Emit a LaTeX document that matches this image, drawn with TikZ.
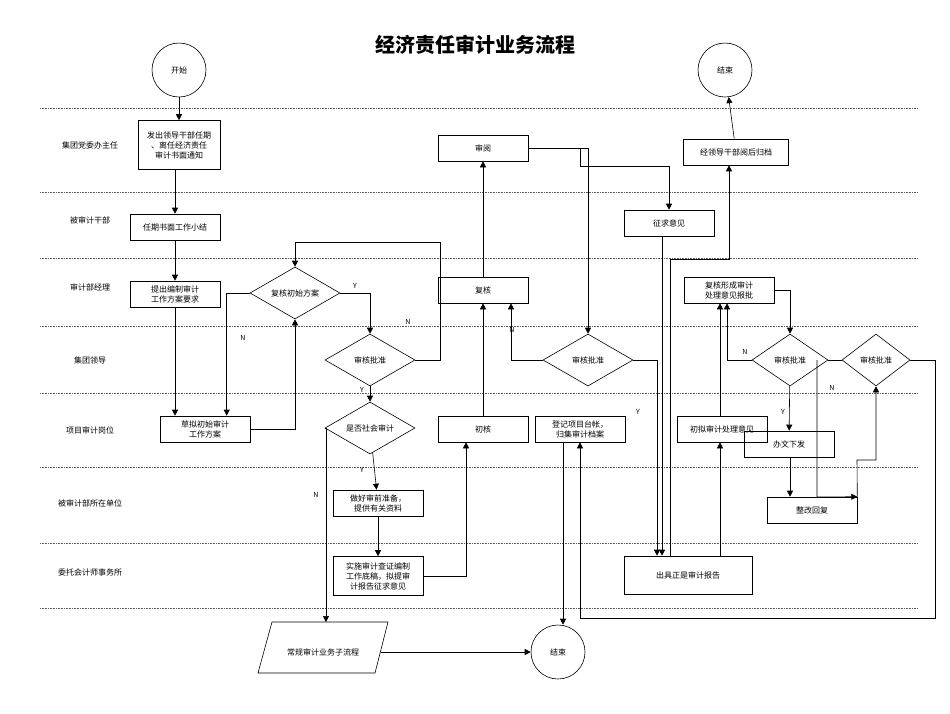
\documentclass[tikz,border=0pt]{standalone}
\usepackage{fontspec}
\setmainfont{Noto Sans CJK SC}
\usepackage{tikz}
\usetikzlibrary{shapes.geometric,arrows.meta}
\tikzset{
box/.style={draw,rectangle,minimum width=90,minimum height=26,inner sep=1pt,align=center,font=\fontsize{8}{10}\selectfont},
dia/.style={draw,diamond,minimum width=90,minimum height=52,inner sep=0pt,font=\fontsize{8}{10}\selectfont},
term/.style={draw,circle,minimum size=54,inner sep=0pt,font=\fontsize{8}{10}\selectfont},
flow/.style={-{Triangle[length=6pt,width=6pt]}},
lane/.style={densely dotted,gray!70!black},
yn/.style={font=\fontsize{7}{8}\selectfont},
}
\begin{document}
\begin{tikzpicture}[x=1pt,y=-1pt,line width=0.6pt]
\useasboundingbox (0,0) rectangle (950,713);
\node[font=\fontsize{20}{24}\selectfont\bfseries] (title) at (475,45) {经济责任审计业务流程};
% the lanes
\foreach \y in {108,192,258,326,393,467,543,608}
{
  \draw[lane] (40,\y) -- (918,\y);
}
\foreach \y/\t in {145/集团党委办主任,220/被审计干部,287/审计部经理,360/集团领导,430/项目审计岗位,503/被审计部所在单位,572/委托会计师事务所}
{
  \node[font=\fontsize{8}{10}\selectfont] at (90,\y) {\t};
}
% the nodes
\node[term] (start) at (179,70) {开始};
\node[term] (end1) at (725,70) {结束};
\node[box,minimum width=82,minimum height=49] (notice) at (179,145) {发出领导干部任期\\、离任经济责任\\审计书面通知};
\node[box] (summary) at (175,227) {任期书面工作小结};
\node[box] (request) at (175,294) {提出编制审计\\工作方案要求};
\node[dia,label=center:{\fontsize{8}{10}\selectfont 复核初始方案}] (check) at (295,293) {};
\node[box] (draft) at (205,429) {草拟初始审计\\工作方案};
\node[dia,label=center:{\fontsize{8}{10}\selectfont 审核批准}] (appr1) at (370,360) {};
\node[dia,label=center:{\fontsize{8}{10}\selectfont 是否社会审计}] (social) at (370,428) {};
\node[box] (prep) at (378,503) {做好审前准备，\\提供有关资料};
\node[box,minimum height=39] (exec) at (378,576) {实施审计查证编制\\工作底稿，拟提审\\计报告征求意见};
\node[box] (first) at (483,429) {初核};
\node[box] (recheck) at (483,290) {复核};
\node[box] (review) at (483,148) {审阅};
\node[dia,label=center:{\fontsize{8}{10}\selectfont 审核批准}] (appr2) at (588,360) {};
\node[box] (archive) at (580,429) {登记项目台帐，\\归集审计档案};
\node[box] (opinion) at (669,223) {征求意见};
\node[box,minimum width=105] (file) at (736,152) {经领导干部阅后归档};
\node[box] (form) at (729,290) {复核形成审计\\处理意见报批};
\node[box] (prelim) at (722,429) {初拟审计处理意见};
\node[dia,minimum width=76,label=center:{\fontsize{8}{10}\selectfont 审核批准}] (appr3) at (790,360) {};
\node[dia,minimum width=68,label=center:{\fontsize{8}{10}\selectfont 审核批准}] (appr4) at (876,360) {};
\node[box] (issue) at (789,444) {办文下发};
\node[box] (reply) at (812,510) {整改回复};
\node[box,minimum width=128,minimum height=38] (report) at (688,575) {出具正是审计报告};
\node[minimum width=116,minimum height=51,inner sep=0pt,font=\fontsize{8}{10}\selectfont] (sub) at (323,652) {常规审计业务子流程};
\draw (272,622) -- (388,622) -- (375,673) -- (258,673) -- cycle;
\node[term] (end2) at (558,652) {结束};
% the arrows
\draw[flow] (start) -- (notice);
\draw[flow] (notice.south -| summary) -- (summary);
\draw[flow] (summary) -- (request);
\draw[flow] (request) -- (draft.north -| request);
\draw[flow] (draft.east) -| (check.south);
\draw[flow] (check.west) -| ([xshift=67]draft.north west);
\node[yn] at (243,338) {N};
\draw[flow] (check.east) -| (appr1.north);
\node[yn] at (355,286) {Y};
\draw[flow] (appr1.east) -- (440,360) |- (295,242) -- (check.north);
\node[yn] at (408,322) {N};
\draw[flow] (appr1) -- (social);
\node[yn] at (362,390) {Y};
\draw[flow] (social) -- (prep);
\node[yn] at (362,470) {Y};
\draw[flow] (social.west) -- (326,428) -- (326,622);
\node[yn] at (316,495) {N};
\draw[flow] (prep) -- (exec);
\draw[flow] (exec.east) -| ([xshift=-17]first.south);
\draw[flow] (first) -- (recheck);
\draw[flow] (recheck) -- (review);
\draw[flow] (review.east) -| (appr2.north);
\draw[flow] (580,148) -- (580,166) -| (opinion.north);
\draw[flow] (appr2.west) -| ([xshift=28]recheck.south);
\node[yn] at (512,330) {N};
\draw[flow] (appr2.east) -| ([xshift=-31]report.north);
\node[yn] at (638,412) {Y};
\draw[flow] ([xshift=-7]opinion.south) -- ([xshift=-26]report.north);
\draw[flow] ([xshift=-18]report.north) -- (670,259) -| ([xshift=-7]file.south);
\draw[flow] (file) -- (end1);
\draw[flow] ([xshift=32]report.north) -- (prelim.south -| 720,0);
\draw[flow] (prelim.north -| 720,0) -- (form.south -| 720,0);
\draw[flow] (form.east) -| (appr3.north);
\draw[flow] (appr3.west) -| (form.south -| 727,0);
\node[yn] at (745,352) {N};
\draw[flow] (appr3) -- (issue);
\node[yn] at (783,412) {Y};
\draw[flow] (issue.south -| appr3) -- (reply.north -| appr3);
\draw (appr3.east) -- (appr4.west);
\draw[flow] (817,360) -- (817,497) -- (reply.north east);
\draw[flow] (reply.north east) -- (857,460) -| (appr4.south);
\node[yn] at (832,388) {N};
\draw[flow] (appr4.east) -- (935,360) -- (935,618) -| (archive.south);
\draw[flow] ([xshift=-17]archive.south) -- (end2.north -| 563,0);
\draw[flow] (sub) -- (end2);
\end{tikzpicture}
\end{document}
